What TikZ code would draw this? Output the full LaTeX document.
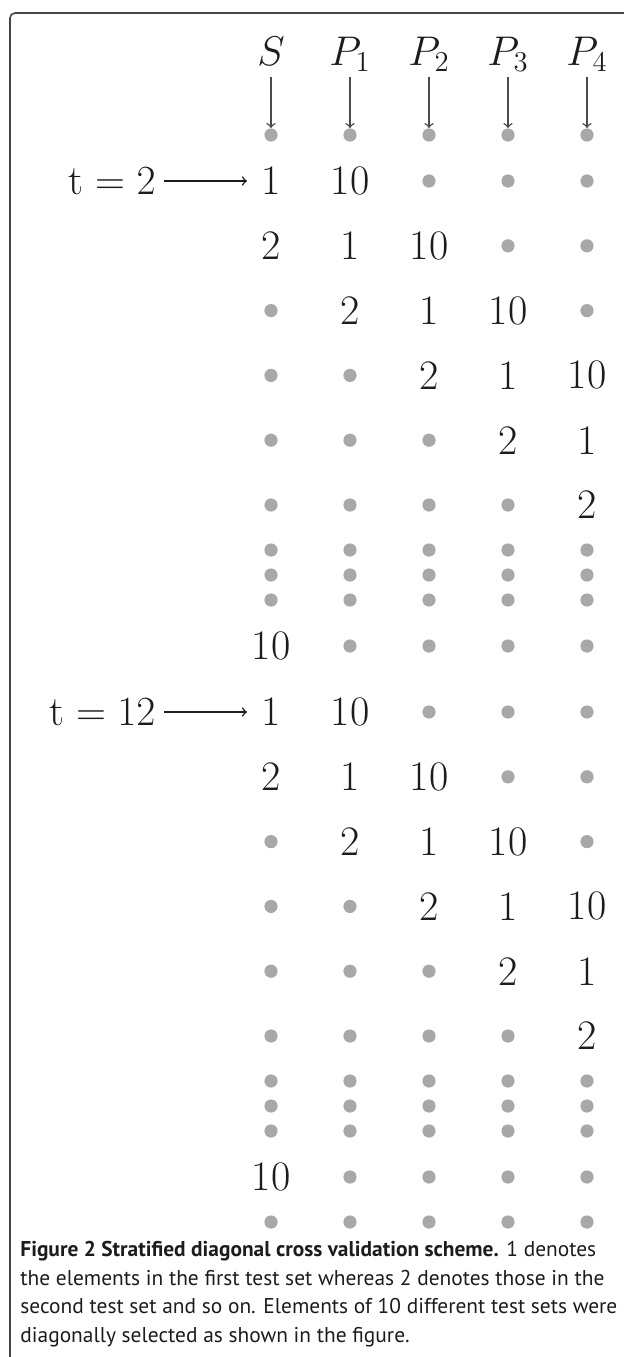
\documentclass[tikz,border=0pt]{standalone}
\usepackage{xcolor}
\usepackage{fontspec}
\usepackage{tikz}
\usetikzlibrary{arrows, positioning, calc}
\newfontfamily\capfont{PT Sans}
\definecolor{dotgray}{RGB}{168, 168, 168}
\definecolor{arrowgray}{RGB}{75, 75, 75}
\definecolor{framegray}{RGB}{70, 70, 70}
\definecolor{inkblack}{RGB}{28, 28, 28}

\begin{document}
\begin{tikzpicture}[x=0.5pt, y=-0.5pt,
    dot/.style={circle, fill=dotgray, inner sep=0pt, minimum size=6.6pt},
    num/.style={inner sep=1pt, text=inkblack, font=\fontsize{21}{25}\selectfont},
    head/.style={anchor=base, inner sep=1pt, text height=14pt, text depth=5pt,
                 text=inkblack, font=\fontsize{21}{25}\selectfont},
    tlabel/.style={anchor=east, inner sep=1pt, text=inkblack, font=\fontsize{21}{25}\selectfont},
    downarr/.style={->, draw=arrowgray, line width=0.75pt},
    rightarr/.style={->, draw=inkblack, line width=0.75pt, shorten >=6pt, shorten <=3pt}]

    \useasboundingbox (0,0) rectangle (624,1357);
    \draw[framegray, line width=0.8pt, rounded corners=2.5pt] (10,1357) -- (10,13) -- (624,13);

    % column heads
    \foreach \c/\lab in {0/S, 1/P_1, 2/P_2, 3/P_3, 4/P_4} {
        \node[head] (h\c) at (271+79*\c, 65) {$\lab$};
        \node[dot] (top\c) at (271+79*\c, 135) {};
        \draw[downarr] (h\c) -- (top\c);
    }

    % two diagonal blocks
    \foreach \b/\off in {0/0, 1/531} {
        \foreach \r in {0,...,5} {
            \foreach \c in {0,...,4} {
                \pgfmathtruncatemacro\d{\r-\c}
                \coordinate (p) at (271+79*\c, 181+64.8*\r+\off);
                \ifnum\d=0 \node[num] (b\b-\r-\c) at (p) {1};
                \else\ifnum\d=1 \node[num] (b\b-\r-\c) at (p) {2};
                \else\ifnum\d=-1 \node[num] (b\b-\r-\c) at (p) {10};
                \else \node[dot] (b\b-\r-\c) at (p) {};
                \fi\fi\fi
            }
        }
        \foreach \yy [count=\k] in {550, 575, 600} {
            \foreach \c in {0,...,4}
                \node[dot] (f\b-\k-\c) at (271+79*\c, \yy+\off) {};
        }
        \node[num] (ten\b) at (271, 646+\off) {10};
        \foreach \c in {1,...,4}
            \node[dot] (ten\b-\c) at (271+79*\c, 646+\off) {};
    }
    \foreach \c in {0,...,4}
        \node[dot] (bot\c) at (271+79*\c, 1222) {};

    \node[tlabel] (t2) at (158, 181) {$\mathrm{t} = 2$};
    \node[tlabel] (t12) at (158, 712) {$\mathrm{t} = 12$};
    \draw[rightarr] (t2) -- (b0-0-0);
    \draw[rightarr] (t12) -- (b1-0-0);

    \node[anchor=north west, inner sep=0pt, align=left, text=inkblack,
          font=\capfont\fontsize{10.7}{14.3}\selectfont] (caption) at (20, 1241) {
        \textbf{Figure 2 Stratified diagonal cross validation scheme.} 1 denotes\\
        the elements in the first test set whereas 2 denotes those in the\\
        second test set and so on. Elements of 10 different test sets were\\
        diagonally selected as shown in the figure.
    };
\end{tikzpicture}
\end{document}
